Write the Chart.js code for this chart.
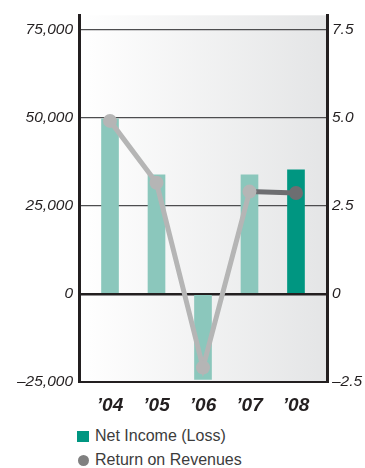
<!DOCTYPE html>
<html lang="en">
<head>
<meta charset="UTF-8">
<title>Net Income and Return on Revenues</title>
<style>
body {margin:0; background:#fff; font-family:"Liberation Sans", Arial, Helvetica, sans-serif;}
#wrap {position:relative; width:365px; height:468px;}
#chart {position:absolute; left:0; top:0;}
.legend {position:absolute; left:77px; font-size:16px; color:#3c3c3c; display:flex; align-items:center;}
.legend i {display:inline-block; margin-right:6px;}
.sq {width:12px; height:11px; background:#009681;}
.dot {width:11px; height:11px; border-radius:50%; background:#808080; margin-left:1px;}
</style>
</head>
<body>
<div id="wrap">
<canvas id="chart" width="365" height="420"></canvas>
<div class="legend" style="top:427px"><i class="sq"></i>Net Income (Loss)</div>
<div class="legend" style="top:451px"><i class="dot"></i>Return on Revenues</div>
</div>
<script src="https://cdn.jsdelivr.net/npm/chart.js"></script>
<script>
// data
const years = ['\u201904', '\u201905', '\u201906', '\u201907', '\u201908'];
const netIncome = [49800, 33900, -24300, 33900, 35300];
const returnOnRevenues = [4.92, 3.16, -2.09, 2.91, 2.87];
const leftTicks = [-25000, 0, 25000, 50000, 75000];
const leftTickLabels = ['\u201325,000', '0', '25,000', '50,000', '75,000'];
const rightTicks = [-2.5, 0, 2.5, 5, 7.5];
const rightTickLabels = ['\u20132.5', '0', '2.5', '5.0', '7.5'];

const barColors = ['#8bc7bc', '#8bc7bc', '#8bc7bc', '#8bc7bc', '#009681'];
const dotColors = ['#b5b5b5', '#b5b5b5', '#b5b5b5', '#b5b5b5', '#6d6e71'];
const ink = '#231f20';

// soft left-to-right gray wash behind the plot
const plotBg = {
  id: 'plotBg',
  beforeDraw(chart) {
    const {ctx, chartArea: a} = chart;
    const g = ctx.createLinearGradient(a.left, 0, a.right, 0);
    g.addColorStop(0, '#ffffff');
    g.addColorStop(1, '#e4e5e6');
    ctx.save();
    ctx.fillStyle = g;
    ctx.fillRect(a.left, a.top, a.right - a.left, a.bottom - a.top);
    ctx.restore();
  }
};

const tickFont = {family: '"Liberation Sans", Arial, sans-serif', size: 15.5, style: 'italic'};

new Chart(document.getElementById('chart'), {
  type: 'bar',
  data: {
    datasets: [
      {
        type: 'line',
        yAxisID: 'y1',
        order: 0,
        data: returnOnRevenues.map((v, i) => ({x: i, y: v})),
        borderColor: '#b5b5b5',
        borderWidth: 5,
        tension: 0,
        pointRadius: 7,
        pointBorderWidth: 0,
        pointBackgroundColor: dotColors,
        segment: {
          borderColor: c => c.p0DataIndex === 3 ? '#6d6e71' : undefined
        }
      },
      {
        type: 'bar',
        yAxisID: 'y',
        order: 1,
        data: netIncome.map((v, i) => ({x: i, y: v})),
        backgroundColor: barColors,
        barThickness: 17
      }
    ]
  },
  options: {
    responsive: false,
    animation: false,
    layout: {padding: {top: 13}},
    plugins: {legend: {display: false}, tooltip: {enabled: false}},
    scales: {
      x: {
        type: 'linear',
        offset: false,
        min: -0.667,
        max: 4.667,
        afterBuildTicks: s => { s.ticks = years.map((_, i) => ({value: i})); },
        afterFit: s => { s.height = 38; },
        ticks: {
          callback: v => years[v],
          color: ink,
          font: {family: '"Liberation Sans", Arial, sans-serif', size: 19, style: 'italic', weight: 'bold'},
          padding: 4,
          maxRotation: 0
        },
        grid: {display: false, offset: false},
        border: {display: false}
      },
      y: {
        position: 'left',
        min: -25000,
        max: 79200,
        afterBuildTicks: s => { s.ticks = leftTicks.map(v => ({value: v})); },
        afterFit: s => { s.width = 79; },
        ticks: {
          callback: (v, i) => leftTickLabels[i],
          color: ink,
          font: tickFont,
          padding: 6
        },
        grid: {
          drawTicks: false,
          color: c => (c.tick && c.tick.value <= 0) ? ink : '#4d4d4f',
          lineWidth: c => c.tick && c.tick.value === 0 ? 2.5 : (c.tick && c.tick.value < 0 ? 2 : 1.3)
        },
        border: {color: ink, width: 3}
      },
      y1: {
        position: 'right',
        min: -2.5,
        max: 7.92,
        afterBuildTicks: s => { s.ticks = rightTicks.map(v => ({value: v})); },
        afterFit: s => { s.width = 38; },
        ticks: {
          callback: (v, i) => rightTickLabels[i],
          color: ink,
          font: tickFont,
          padding: 5
        },
        grid: {display: false, drawTicks: false},
        border: {color: ink, width: 3}
      }
    }
  },
  plugins: [plotBg]
});
</script>
</body>
</html>
